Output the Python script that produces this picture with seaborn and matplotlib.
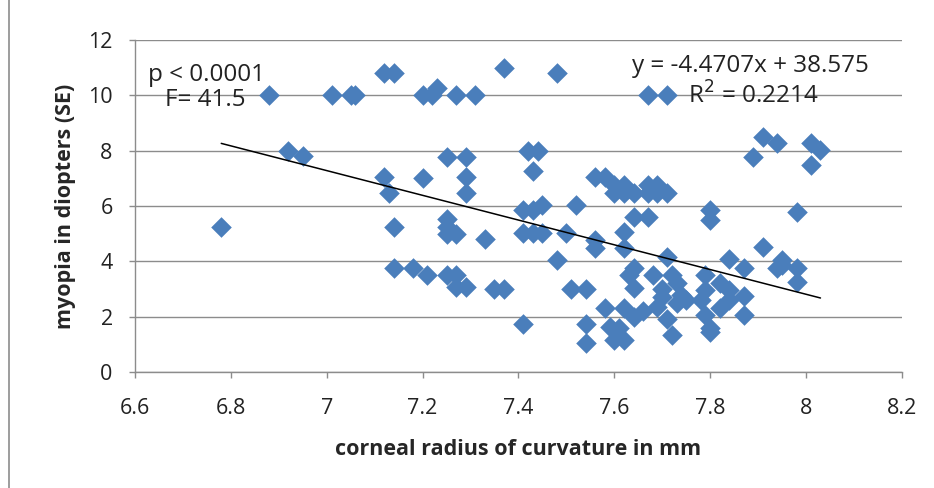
import matplotlib
matplotlib.use("Agg")
import matplotlib.pyplot as plt
import numpy as np
import pandas as pd
import seaborn as sns

# corneal radius (mm) and myopia (D)
radius = [
    6.88, 7.01, 7.05, 7.06, 7.12, 7.14, 7.20, 7.22, 7.23, 7.27, 7.31, 7.37, 7.48, 7.67, 7.71,
    6.92, 6.95, 7.25, 7.29, 7.42, 7.44, 7.89, 7.91, 7.94, 8.01, 8.03, 8.01,
    7.12, 7.13, 7.20, 7.29, 7.29, 7.43, 7.56, 7.58, 7.60, 7.62, 7.60, 7.62, 7.64, 7.67, 7.69,
    7.67, 7.69, 7.71,
    6.78, 7.14, 7.25, 7.25, 7.25, 7.27, 7.33, 7.41, 7.43, 7.45, 7.41, 7.43, 7.45, 7.50, 7.52,
    7.56, 7.56, 7.62, 7.62, 7.64, 7.67, 7.71, 7.80, 7.80, 7.98, 7.91,
    7.14, 7.18, 7.21, 7.25, 7.27, 7.27, 7.29, 7.35, 7.37, 7.48, 7.51, 7.54, 7.41, 7.54, 7.54,
    7.58, 7.59, 7.61, 7.60, 7.62, 7.62, 7.64, 7.64, 7.63, 7.64, 7.68, 7.70, 7.69, 7.71, 7.72,
    7.73, 7.74, 7.72, 7.70, 7.73, 7.75, 7.66,
    7.79, 7.79, 7.82, 7.84, 7.87, 7.78, 7.84, 7.87, 7.79, 7.82, 7.80, 7.80, 7.84, 7.87, 7.95,
    7.98, 7.98, 7.94, 7.95,
]
myopia = [
    10.0, 10.0, 10.0, 10.0, 10.8, 10.8, 10.0, 10.0, 10.25, 10.0, 10.0, 11.0, 10.8, 10.0, 10.0,
    8.0, 7.8, 7.77, 7.77, 8.0, 8.0, 7.77, 8.5, 8.27, 8.27, 8.02, 7.48,
    7.05, 6.47, 7.02, 7.05, 6.47, 7.26, 7.05, 7.05, 6.76, 6.76, 6.47, 6.47, 6.47, 6.76, 6.76,
    6.47, 6.47, 6.47,
    5.25, 5.25, 5.53, 5.25, 5.0, 5.0, 4.8, 5.85, 5.85, 6.03, 5.03, 5.03, 5.03, 5.03, 6.03,
    4.77, 4.5, 5.06, 4.48, 5.6, 5.6, 4.15, 5.85, 5.5, 5.8, 4.52,
    3.75, 3.75, 3.5, 3.5, 3.5, 3.07, 3.07, 3.0, 3.0, 4.05, 3.0, 3.0, 1.73, 1.73, 1.05,
    2.3, 1.63, 1.6, 1.15, 1.15, 2.3, 2.0, 3.03, 3.5, 3.75, 3.5, 2.7, 2.35, 1.9, 1.34,
    3.2, 2.8, 3.5, 3.0, 2.5, 2.6, 2.2,
    3.5, 2.95, 3.2, 2.95, 2.75, 2.6, 2.6, 2.05, 2.05, 2.3, 1.6, 1.45, 4.07, 3.75, 3.87,
    3.75, 3.25, 3.75, 4.05,
]

slope = -4.4707
intercept = 38.575
r_squared = 0.2214

df = pd.DataFrame({"radius": radius, "myopia": myopia})

sns.set_style("white")
plt.rcParams["font.family"] = ["Open Sans", "DejaVu Sans"]

fig = plt.figure(figsize=(9.34, 4.88), dpi=100)
ax = fig.add_axes([0.1445, 0.2377, 0.8212, 0.6803])

sns.scatterplot(data=df, x="radius", y="myopia", marker="D", s=110,
                color="#4A7EBB", linewidth=0, ax=ax, zorder=3)

# trend line over the data range
xs = np.array([min(radius), max(radius)])
ax.plot(xs, slope * xs + intercept, color="black", linewidth=1.1, zorder=4)

ax.set_xlim(6.6, 8.2)
ax.set_ylim(0, 12)
ax.set_xticks(np.arange(6.6, 8.21, 0.2))
ax.set_xticklabels(["6.6", "6.8", "7", "7.2", "7.4", "7.6", "7.8", "8", "8.2"])
ax.set_yticks(range(0, 13, 2))
ax.yaxis.grid(True, color="#8c8c8c", linewidth=1)
ax.set_axisbelow(True)

for side in ["top", "right"]:
    ax.spines[side].set_visible(False)
for side in ["left", "bottom"]:
    ax.spines[side].set_color("#8c8c8c")
    ax.spines[side].set_linewidth(1)
ax.tick_params(axis="both", which="major", length=4, width=1, color="#8c8c8c",
               labelsize=15.5, labelcolor="#222222", direction="out",
               bottom=True, left=True)
ax.tick_params(axis="x", pad=15)
ax.tick_params(axis="y", pad=12)

ax.set_xlabel("corneal radius of curvature in mm", fontsize=15.5, fontweight="bold",
              labelpad=14)
ax.set_ylabel("myopia in diopters (SE)", fontsize=15.5, fontweight="bold", labelpad=9)

ax.text(6.627, 10.73, "p < 0.0001", fontsize=17.5, va="center", ha="left", color="#222222")
ax.text(6.663, 9.83, "F= 41.5", fontsize=17.5, va="center", ha="left", color="#222222")
ax.text(7.637, 11.06, f"y = {slope}x + {intercept}", fontsize=17.5, va="center", ha="left",
        color="#222222")
ax.text(7.754, 9.97, f"R$^2$ = {r_squared}", fontsize=17.5, va="center", ha="left",
        color="#222222")

# thin chart-area border on the left
fig.add_artist(plt.Line2D([0.0097, 0.0097], [0, 1], color="#8c8c8c", linewidth=1.2,
                          transform=fig.transFigure))

plt.savefig("out.png", dpi=100)
